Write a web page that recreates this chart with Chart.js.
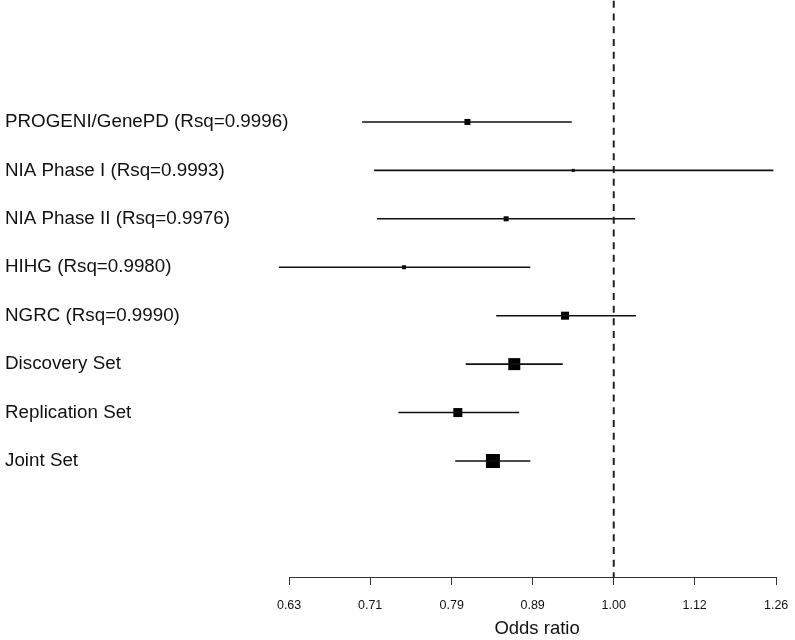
<!DOCTYPE html>
<html>
<head>
<meta charset="utf-8">
<script src="https://cdn.jsdelivr.net/npm/chart.js@4/dist/chart.umd.min.js"></script>
<style>
  html, body { margin: 0; padding: 0; background: #fff; }
  #wrap { width: 795px; height: 640px; }
</style>
</head>
<body>
<div id="wrap"><canvas id="forest"></canvas></div>
<script>
// data
const studies = [
  "PROGENI/GenePD (Rsq=0.9996)",
  "NIA Phase I (Rsq=0.9993)",
  "NIA Phase II (Rsq=0.9976)",
  "HIHG (Rsq=0.9980)",
  "NGRC (Rsq=0.9990)",
  "Discovery Set",
  "Replication Set",
  "Joint Set",
];
const oddsRatio = [0.812, 0.944, 0.858, 0.742, 0.933, 0.868, 0.801, 0.842];
const ciLower = [0.699, 0.711, 0.714, 0.621, 0.846, 0.810, 0.736, 0.798];
const ciUpper = [0.942, 1.255, 1.031, 0.888, 1.032, 0.930, 0.874, 0.888];
const tickVals = [0.63, 0.707, 0.794, 0.891, 1.0, 1.122, 1.26];

// box side in px for each row (weight of the study)
const boxSide = [6, 3, 5, 4, 8, 12, 9, 14];

const FONT = "'Liberation Sans', Arial, sans-serif";
const rows = studies.map((s, i) => i + 1);

const ciSets = rows.map((r, i) => ({
  data: [{ x: ciLower[i], y: r }, { x: ciUpper[i], y: r }],
  showLine: true,
  clip: false,
  borderColor: "#111",
  borderWidth: 1.6,
  pointRadius: 0,
}));

const pointSet = {
  data: rows.map((r, i) => ({ x: oddsRatio[i], y: r })),
  pointStyle: "rect",
  pointRadius: boxSide.map((s) => s / Math.SQRT2),
  pointBorderWidth: 0,
  backgroundColor: "#000",
  borderColor: "#000",
};

// reference line at OR = 1, runs to the top of the page
const nullLine = {
  data: [{ x: 1, y: -1.5 }, { x: 1, y: 10.395 }],
  showLine: true,
  clip: false,
  borderColor: "#222",
  borderWidth: 2,
  borderDash: [7, 5.7],
  pointRadius: 0,
};

// axis line only between first and last tick, like R's axis()
const axisLine = {
  id: "axisLine",
  afterDraw(chart) {
    const xs = chart.scales.x;
    const y = chart.chartArea.bottom + 0.5;
    const ctx = chart.ctx;
    ctx.save();
    ctx.strokeStyle = "#333";
    ctx.lineWidth = 1;
    ctx.beginPath();
    ctx.moveTo(xs.getPixelForValue(tickVals[0]), y);
    ctx.lineTo(xs.getPixelForValue(tickVals[tickVals.length - 1]), y);
    ctx.stroke();
    ctx.restore();
  },
};

new Chart(document.getElementById("forest"), {
  type: "scatter",
  data: { datasets: [nullLine, ...ciSets, pointSet] },
  plugins: [axisLine],
  options: {
    responsive: true,
    maintainAspectRatio: false,
    animation: false,
    layout: { padding: { left: 5, right: 5, top: 0, bottom: 0 } },
    plugins: { legend: { display: false }, tooltip: { enabled: false } },
    scales: {
      x: {
        type: "logarithmic",
        min: 0.6299,
        max: 1.2762,
        bounds: "data",
        afterBuildTicks: (s) => { s.ticks = tickVals.map((v) => ({ value: v })); },
        afterFit: (s) => { s.height = 63; s.paddingLeft = 0; s.paddingRight = 0; },
        border: { display: false },
        grid: { drawOnChartArea: false, drawTicks: true, tickLength: 8, color: "#333" },
        ticks: {
          autoSkip: false,
          maxRotation: 0,
          padding: 13,
          color: "#111",
          font: { family: FONT, size: 12.5 },
          callback: (v) => Number(v).toFixed(2),
        },
        title: {
          display: true,
          text: "Odds ratio",
          color: "#111",
          font: { family: FONT, size: 18.5 },
          padding: { top: 0, bottom: 0 },
        },
      },
      y: {
        type: "linear",
        reverse: true,
        min: -1.313,
        max: 10.395,
        bounds: "data",
        afterBuildTicks: (s) => { s.ticks = rows.map((r) => ({ value: r })); },
        afterFit: (s) => { s.width = 284; s.paddingTop = 0; s.paddingBottom = 0; },
        border: { display: false },
        grid: { display: false },
        ticks: {
          crossAlign: "far",
          color: "#111",
          font: { family: FONT, size: 18.8 },
          callback: (v) => studies[v - 1] || "",
        },
      },
    },
  },
});
</script>
</body>
</html>
